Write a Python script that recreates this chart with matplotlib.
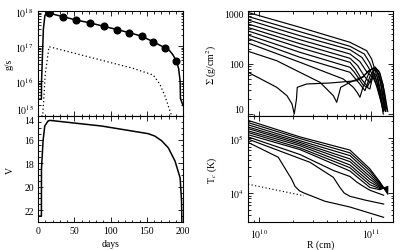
import numpy as np
import matplotlib
matplotlib.use('Agg')
import matplotlib.pyplot as plt
from matplotlib.ticker import MultipleLocator, NullFormatter, LogLocator

plt.rcParams['font.family'] = ['Liberation Serif', 'DejaVu Serif']
plt.rcParams['mathtext.fontset'] = 'stix'
plt.rcParams['font.size'] = 7

# ---- left column: accretion rate and V light curve (log10 values for mdot)
mdot_days = [0, 4.7, 4.9, 7.4, 9.5, 13, 15, 34, 53, 72, 91, 109, 126, 143, 159, 175,
             181, 186, 191, 194, 196, 196.5, 200]
mdot_log = [15.48, 15.48, 16.0, 17.48, 17.87, 17.98, 17.94, 17.84, 17.74, 17.66, 17.56,
            17.47, 17.38, 17.28, 17.12, 16.95, 16.88, 16.75, 16.57, 16.35, 16.0, 15.5, 15.3]

dot_days = [4.7, 6.5, 10, 15.2, 71.5, 131.4, 159, 168, 175, 184.4]
dot_log = [15.0, 15.0, 16.2, 16.98, 16.68, 16.36, 16.17, 15.91, 15.58, 15.0]

marker_days = [15, 34, 53, 72, 91, 109, 126, 143, 159, 175, 191]
marker_log = [17.94, 17.84, 17.74, 17.66, 17.56, 17.47, 17.38, 17.28, 17.12, 16.95, 16.57]

v_days = [0, 4.7, 4.8, 7, 9.3, 13.8, 16.2, 87.6, 152, 161, 170.5, 179.7, 189, 196, 198, 198.5]
v_mag = [22.5, 22.5, 18.5, 16.1, 14.85, 14.43, 14.37, 14.85, 15.5, 15.7, 16.1, 16.7,
         17.83, 19.25, 21.2, 23.5]

# ---- right column: surface density profiles (log10 R, log10 Sigma)
sig_r = [
    [9.90, 10.364, 10.812, 10.961, 11.006, 11.051, 11.096, 11.126],
    [9.90, 10.364, 10.812, 10.94, 10.99, 11.04, 11.085, 11.12],
    [9.90, 10.364, 10.812, 10.92, 10.975, 11.03, 11.075, 11.115],
    [9.90, 10.364, 10.812, 10.90, 10.96, 11.02, 11.065, 11.11],
    [9.90, 10.364, 10.812, 10.88, 10.94, 10.99, 11.03, 11.07, 11.11],
    [9.90, 10.364, 10.812, 10.86, 10.92, 10.97, 11.02, 11.06, 11.10],
    [9.90, 10.364, 10.812, 10.85, 10.93, 10.99, 11.03, 11.07, 11.12],
    [9.90, 10.364, 10.812, 10.84, 10.90, 10.946, 10.99, 11.04, 11.09, 11.13],
    [9.90, 10.364, 10.752, 10.842, 10.88, 10.901, 10.93, 10.991, 11.036, 11.10, 11.135],
    [9.90, 10.156, 10.304, 10.543, 10.663, 10.693, 10.729, 10.812, 10.93, 10.99, 11.04,
     11.08, 11.12, 11.15],
    [9.90, 10.156, 10.248, 10.293, 10.313, 10.333, 10.34, 10.424, 10.633, 10.872, 10.93,
     10.975, 11.036, 11.07, 11.107, 11.14],
]
sig_v = [
    [3.03, 2.734, 2.434, 2.266, 2.10, 1.766, 1.366, 1.10],
    [2.95, 2.646, 2.354, 2.20, 2.02, 1.74, 1.35, 1.08],
    [2.88, 2.566, 2.286, 2.13, 1.94, 1.72, 1.36, 1.06],
    [2.80, 2.486, 2.20, 2.05, 1.85, 1.72, 1.50, 1.05],
    [2.73, 2.406, 2.114, 1.97, 1.76, 1.62, 1.78, 1.55, 1.0],
    [2.66, 2.326, 2.034, 1.90, 1.68, 1.55, 1.82, 1.75, 1.2],
    [2.58, 2.234, 1.934, 1.84, 1.58, 1.50, 1.90, 1.80, 1.15],
    [2.51, 2.134, 1.834, 1.76, 1.60, 1.466, 1.75, 1.93, 1.60, 1.05],
    [2.42, 2.034, 1.70, 1.534, 1.42, 1.334, 1.55, 1.866, 1.94, 1.60, 1.06],
    [2.254, 2.066, 1.90, 1.634, 1.366, 1.234, 1.534, 1.634, 1.75, 1.88, 1.92, 1.82, 1.45, 1.05],
    [1.834, 1.534, 1.366, 1.20, 1.0, 1.30, 1.534, 1.60, 1.62, 1.666, 1.74, 1.86, 1.934,
     1.86, 1.60, 1.10],
]

# ---- temperature profiles (log10 R, log10 T)
tb_r = [9.90, 10.364, 10.812, 10.99, 11.08, 11.15]
tb_v = [
    [5.32, 5.02, 4.78, 4.44, 4.20, 3.98],
    [5.28, 4.99, 4.73, 4.40, 4.18, 4.00],
    [5.24, 4.95, 4.68, 4.35, 4.16, 4.02],
    [5.20, 4.92, 4.62, 4.30, 4.14, 4.04],
    [5.17, 4.89, 4.57, 4.25, 4.12, 4.06],
    [5.13, 4.86, 4.51, 4.20, 4.10, 4.08],
    [5.10, 4.82, 4.46, 4.15, 4.08, 4.10],
    [5.06, 4.79, 4.40, 4.10, 4.06, 4.12],
]
tc_r = [9.90, 10.364, 10.663, 10.812, 10.872, 10.917, 10.99, 11.113]
tc_v = [5.02, 4.70, 4.41, 4.30, 4.20, 4.14, 4.05, 3.96]
tB_r = [9.90, 10.454, 10.663, 10.722, 10.76, 10.812, 10.95, 11.113]
tB_v = [4.98, 4.558, 4.285, 4.10, 4.00, 3.94, 3.87, 3.80]
tA_r = [9.90, 10.17, 10.245, 10.29, 10.32, 10.36, 10.40, 10.588, 10.812, 11.113]
tA_v = [4.92, 4.65, 4.40, 4.25, 4.12, 4.04, 4.00, 3.85, 3.745, 3.558]
tdot_r = [9.90, 10.40]
tdot_v = [4.16, 3.95]


def style( ax):
    ax.tick_params( which='both', direction='in', top=True, right=True, width=0.6)
    ax.tick_params( which='major', length=3.5, pad=3)
    ax.tick_params( which='minor', length=1.8)
    for s in ax.spines.values():
        s.set_linewidth( 0.8)


fig = plt.figure( figsize=(4.15, 2.51), dpi=100)
W, H = 415.0, 251.0
ax1 = fig.add_axes([38 / W, 1 - 117 / H, 145 / W, 105 / H])
ax2 = fig.add_axes([38 / W, 1 - 223 / H, 145 / W, 106 / H])
ax3 = fig.add_axes([248 / W, 1 - 117 / H, 145 / W, 105 / H])
ax4 = fig.add_axes([248 / W, 1 - 223 / H, 145 / W, 106 / H])

# top-left: mass accretion rate
ax1.plot( mdot_days, np.power( 10.0, mdot_log), color='k', lw=1.1)
ax1.plot( dot_days, np.power( 10.0, dot_log), color='k', lw=0.9, ls=(0, (1, 2)))
ax1.plot( marker_days, np.power( 10.0, marker_log), 'o', color='k', ms=4.8)
ax1.set_yscale( 'log')
ax1.set_xlim( 0, 200)
ax1.set_ylim( 1e15, 1e18)
ax1.set_yticks([1e15, 1e16, 1e17, 1e18],
               ['$10^{15}$', '$10^{16}$', '$10^{17}$', '$10^{18}$'])
ax1.get_yticklabels()[0].set_va( 'bottom')
ax1.yaxis.set_minor_locator( LogLocator( base=10, subs=np.arange(2, 10)))
ax1.yaxis.set_minor_formatter( NullFormatter())
ax1.xaxis.set_major_locator( MultipleLocator( 50))
ax1.xaxis.set_minor_locator( MultipleLocator( 10))
ax1.set_xticklabels([])
ax1.set_ylabel( 'g/s')
ax1.yaxis.set_label_coords( -0.165, 0.5)
style( ax1)

# bottom-left: V magnitude
ax2.plot( v_days, v_mag, color='k', lw=1.1)
ax2.set_xlim( 0, 200)
ax2.set_ylim( 23, 14)
ax2.yaxis.set_major_locator( MultipleLocator( 2))
ax2.yaxis.set_minor_locator( MultipleLocator( 0.5))
ax2.xaxis.set_major_locator( MultipleLocator( 50))
ax2.xaxis.set_minor_locator( MultipleLocator( 10))
ax2.set_yticks([14, 16, 18, 20, 22], ['14', '16', '18', '20', '22'])
ax2.get_yticklabels()[0].set_va( 'top')
ax2.set_xlabel( 'days')
ax2.xaxis.set_label_coords( 0.5, -0.16)
ax2.set_ylabel( 'V')
ax2.yaxis.set_label_coords( -0.16, 0.5)
style( ax2)

# top-right: surface density
for r, v in zip( sig_r, sig_v):
    ax3.plot( np.power( 10.0, r), np.power( 10.0, v), color='k', lw=0.85)
ax3.set_xscale( 'log')
ax3.set_yscale( 'log')
ax3.set_xlim( 10 ** 9.899, 10 ** 11.197)
ax3.set_ylim( 10 ** 0.96, 10 ** 3.06)
ax3.set_yticks([10, 100, 1000], ['10', '100', '1000'])
ax3.get_yticklabels()[0].set_va( 'bottom')
ax3.yaxis.set_minor_formatter( NullFormatter())
ax3.set_xticklabels([])
ax3.xaxis.set_minor_formatter( NullFormatter())
ax3.set_ylabel( r'$\Sigma$ (g/cm$^2$)')
ax3.yaxis.set_label_coords( -0.2, 0.5)
style( ax3)

# bottom-right: temperature
for v in tb_v:
    ax4.plot( np.power( 10.0, tb_r), np.power( 10.0, v), color='k', lw=0.85)
ax4.plot( np.power( 10.0, tc_r), np.power( 10.0, tc_v), color='k', lw=0.85)
ax4.plot( np.power( 10.0, tB_r), np.power( 10.0, tB_v), color='k', lw=0.85)
ax4.plot( np.power( 10.0, tA_r), np.power( 10.0, tA_v), color='k', lw=0.85)
ax4.plot( np.power( 10.0, tdot_r), np.power( 10.0, tdot_v), color='k', lw=0.85, ls=(0, (1, 2)))
ax4.set_xscale( 'log')
ax4.set_yscale( 'log')
ax4.set_xlim( 10 ** 9.899, 10 ** 11.197)
ax4.set_ylim( 10 ** 3.473, 10 ** 5.4)
ax4.set_yticks([1e4, 1e5], ['$10^{4}$', '$10^{5}$'])
ax4.set_xticks([1e10, 1e11], ['$10^{10}$', '$10^{11}$'])
ax4.yaxis.set_minor_formatter( NullFormatter())
ax4.xaxis.set_minor_formatter( NullFormatter())
ax4.set_xlabel( 'R (cm)')
ax4.xaxis.set_label_coords( 0.5, -0.16)
ax4.set_ylabel( 'T$_c$ (K)')
ax4.yaxis.set_label_coords( -0.2, 0.5)
style( ax4)

fig.savefig( 'out.png', dpi=100)
